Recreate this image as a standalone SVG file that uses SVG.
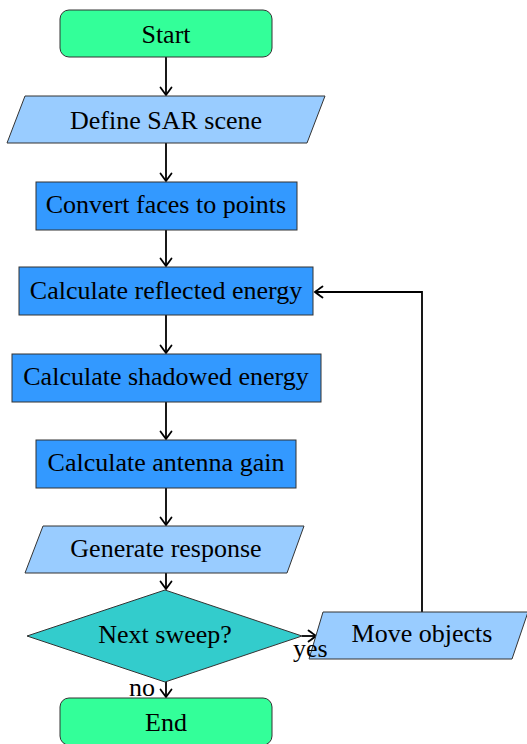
<svg xmlns="http://www.w3.org/2000/svg" width="527" height="744" viewBox="0 0 527 744">
  <style>
    .term { fill: #33ff99; stroke: #333333; stroke-width: 1; }
    .io { fill: #99ccff; stroke: #333333; stroke-width: 1; }
    .proc { fill: #3399ff; stroke: #333333; stroke-width: 1; }
    .dec { fill: #33cccc; stroke: #333333; stroke-width: 1; }
    text { font-family: "Liberation Serif", "Times New Roman", serif; font-size: 26px; fill: #000000; }
    .c { text-anchor: middle; }
    .edge { fill: none; stroke: #000000; stroke-width: 1.8; marker-end: url(#arrow); }
  </style>
  <defs>
    <marker id="arrow" viewBox="-10 -7 12 14" refX="0" refY="0" markerWidth="12" markerHeight="14" markerUnits="userSpaceOnUse" orient="auto" overflow="visible">
      <path d="M -7.5,-5.5 Q -2,-1.5 0,0 Q -2,1.5 -7.5,5.5" fill="none" stroke="#000000" stroke-width="1.8" stroke-linecap="round"/>
    </marker>
  </defs>

  <g id="connectors">
    <path class="edge" d="M166,57 V95"/>
    <path class="edge" d="M166,143 V181"/>
    <path class="edge" d="M166,230 V266"/>
    <path class="edge" d="M166,315 V353"/>
    <path class="edge" d="M166,402 V439"/>
    <path class="edge" d="M166,488 V525"/>
    <path class="edge" d="M166,573 V589"/>
    <path class="edge" d="M302,636 H316"/>
    <path class="edge" d="M166,682 V697"/>
    <path class="edge" d="M422,612 V292 H315"/>
  </g>

  <g id="start">
    <rect class="term" x="60" y="10" width="212" height="47" rx="9"/>
    <text class="c" x="166" y="43">Start</text>
  </g>

  <g id="define-scene">
    <polygon class="io" points="25,96 325,96 307,143 7,143"/>
    <text class="c" x="166" y="129">Define SAR scene</text>
  </g>

  <g id="convert-faces">
    <rect class="proc" x="36" y="182" width="261" height="48"/>
    <text class="c" x="166" y="213">Convert faces to points</text>
  </g>

  <g id="reflected-energy">
    <rect class="proc" x="19" y="267" width="294" height="48"/>
    <text class="c" x="166" y="299">Calculate reflected energy</text>
  </g>

  <g id="shadowed-energy">
    <rect class="proc" x="12" y="354" width="309" height="48"/>
    <text class="c" x="166" y="385">Calculate shadowed energy</text>
  </g>

  <g id="antenna-gain">
    <rect class="proc" x="36" y="440" width="260" height="48"/>
    <text class="c" x="166" y="471">Calculate antenna gain</text>
  </g>

  <g id="generate-response">
    <polygon class="io" points="43,526 304,526 287,573 25,573"/>
    <text class="c" x="166" y="557">Generate response</text>
  </g>

  <g id="next-sweep">
    <polygon class="dec" points="27,636 165,590 302,636 165,682"/>
    <text class="c" x="165" y="643">Next sweep?</text>
  </g>

  <g id="move-objects">
    <polygon class="io" points="323,612 528,612 512,659 309,659"/>
    <text class="c" x="422" y="642">Move objects</text>
  </g>

  <g id="end">
    <rect class="term" x="60" y="698" width="212" height="47" rx="9"/>
    <text class="c" x="166" y="731">End</text>
  </g>

  <!-- branch labels sit on top of the shapes -->
  <g id="edge-labels">
    <text x="293" y="657">yes</text>
    <text x="129" y="696">no</text>
  </g>
</svg>
